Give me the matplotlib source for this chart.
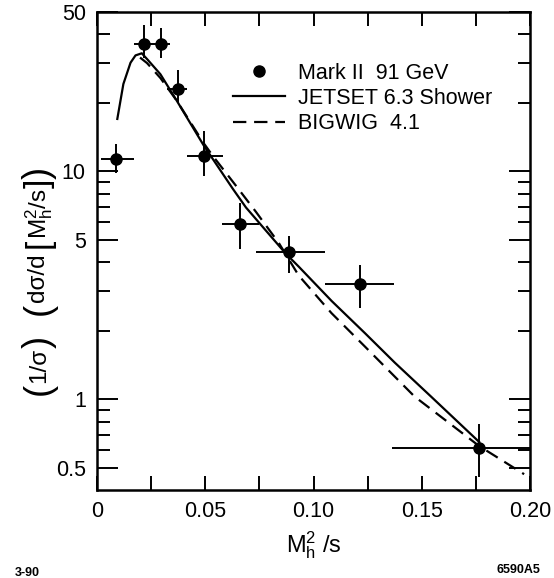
import matplotlib
matplotlib.use('Agg')
import matplotlib.pyplot as plt
from matplotlib.lines import Line2D
from matplotlib.ticker import MultipleLocator, FixedLocator, NullFormatter

plt.rcParams['font.family'] = ['Liberation Sans', 'DejaVu Sans']
plt.rcParams['mathtext.fontset'] = 'custom'
plt.rcParams['mathtext.rm'] = 'Liberation Sans'
plt.rcParams['mathtext.it'] = 'Liberation Sans'
plt.rcParams['mathtext.sf'] = 'Liberation Sans'

# Mark II 91 GeV data points
x_data = [0.0087, 0.0218, 0.0296, 0.0373, 0.0493, 0.0659, 0.0886, 0.1213, 0.1764]
x_lo = [0.0017, 0.0169, 0.0249, 0.0325, 0.0414, 0.0576, 0.0733, 0.1051, 0.1361]
x_hi = [0.0172, 0.0249, 0.0337, 0.0418, 0.0581, 0.0748, 0.1053, 0.1372, 0.2000]
y_data = [11.4, 36.4, 36.4, 23.0, 11.7, 5.91, 4.42, 3.21, 0.611]
y_lo = [9.8, 31.5, 31.5, 20.0, 9.6, 4.57, 3.59, 2.52, 0.456]
y_hi = [13.2, 43.8, 42.6, 27.9, 15.1, 7.25, 5.20, 3.88, 0.784]

# JETSET 6.3 Shower
x_jetset = [0.0094, 0.0122, 0.0155, 0.0178, 0.0207, 0.0233, 0.0293, 0.0369, 0.0493,
            0.0627, 0.0688, 0.0871, 0.0932, 0.1084, 0.1238, 0.1375, 0.1542, 0.1765]
y_jetset = [17.0, 24.2, 30.0, 32.3, 33.0, 31.0, 26.7, 20.4, 13.0,
            8.4, 6.95, 4.37, 3.82, 2.70, 1.95, 1.45, 1.03, 0.65]

# BIGWIG 4.1
x_bigwig = [0.0199, 0.0231, 0.0293, 0.0369, 0.0493, 0.0535, 0.0640, 0.0734, 0.0840,
            0.0931, 0.1083, 0.1236, 0.1466, 0.1764, 0.1972]
y_bigwig = [31.6, 29.9, 25.7, 20.4, 13.3, 11.7, 8.7, 6.65, 4.85,
            3.50, 2.39, 1.71, 1.03, 0.625, 0.47]

xerr = [[x - lo for x, lo in zip(x_data, x_lo)], [hi - x for x, hi in zip(x_data, x_hi)]]
yerr = [[y - lo for y, lo in zip(y_data, y_lo)], [hi - y for y, hi in zip(y_data, y_hi)]]

fig = plt.figure(figsize=(5.54, 5.78), dpi=100)
ax = fig.add_axes([0.175, 0.152, 0.782, 0.827])

dash = (0, (6, 3.5))
ax.plot(x_jetset, y_jetset, color='black', lw=1.6)
ax.plot(x_bigwig, y_bigwig, color='black', lw=1.6, ls=dash)
ax.errorbar(x_data, y_data, xerr=xerr, yerr=yerr, fmt='o', color='black',
            ms=8, elinewidth=1.4, capsize=0)

ax.set_yscale('log')
ax.set_xlim(0, 0.2)
ax.set_ylim(0.4, 50)

ax.xaxis.set_major_locator(FixedLocator([0, 0.05, 0.10, 0.15, 0.20]))
ax.set_xticklabels(['0', '0.05', '0.10', '0.15', '0.20'])
ax.xaxis.set_minor_locator(MultipleLocator(0.025))
ax.set_yticks([0.5, 1, 5, 10, 50], labels=['0.5', '1', '5', '10', '50'])
ax.yaxis.set_minor_locator(FixedLocator([0.6, 0.7, 0.8, 0.9, 2, 3, 4, 6, 7, 8, 9, 20, 30, 40]))
ax.yaxis.set_minor_formatter(NullFormatter())

ax.tick_params(which='both', direction='in', top=True, right=True, labelsize=15.5, width=1.4, pad=8)
ax.tick_params(axis='x', which='both', length=10)
ax.tick_params(axis='y', which='major', length=15)
ax.tick_params(axis='y', which='minor', length=9)
for s in ax.spines.values():
    s.set_linewidth(1.8)

ax.set_xlabel(r'$\mathregular{M_h^2\ /s}$', fontsize=17, labelpad=5)

# y label built from pieces so the brackets can be larger than the text
pieces = [('(', 26), ('1/σ', 17.5), (')', 26), ('   ', 17.5), ('(', 26), ('dσ/d ', 17.5),
          ('[', 24), (r'$\mathregular{M_h^2/s}$', 17.5), (']', 24), (')', 26)]
renderer = fig.canvas.get_renderer()
ypos = (578 - 395) / 578
for s, fs in pieces:
    t = fig.text(0.07, ypos, s, rotation=90, fontsize=fs, ha='center', va='bottom')
    bb = t.get_window_extent(renderer)
    ypos += bb.height / fig.bbox.height

handles = [Line2D([], [], marker='o', ls='none', color='black', ms=8),
           Line2D([], [], color='black', lw=1.6),
           Line2D([], [], color='black', lw=1.6, ls=dash)]
ax.legend(handles, ['Mark II  91 GeV', 'JETSET 6.3 Shower', 'BIGWIG  4.1'],
          loc='upper left', bbox_to_anchor=(0.27, 0.935), frameon=False, fontsize=15.5,
          handlelength=2.4, labelspacing=0.2, handletextpad=0.6)

fig.text(0.027, 0.004, '3-90', fontsize=9, fontweight='bold')
fig.text(0.975, 0.008, '6590A5', fontsize=9, fontweight='bold', ha='right')

fig.savefig('out.png', dpi=100)
